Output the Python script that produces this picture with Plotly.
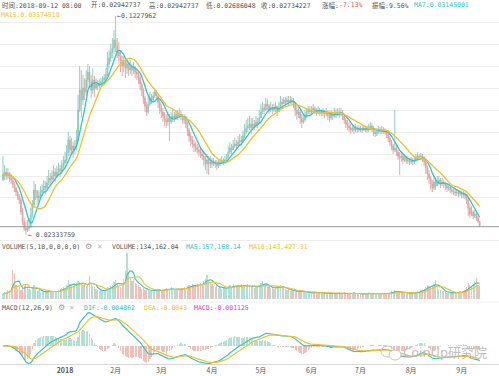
import numpy as np
import pandas as pd
import plotly.graph_objects as go

# ---------------- data (prices in 1e-4 units, volume in thousands) ----------------
start_date = "2017-11-24"
first_open_e4 = 482

close_e4 = [
    505, 518, 500, 514, 491, 482, 464, 445, 427, 409,
    391, 336, 291, 263, 254, 263, 268, 323, 368, 436,
    427, 400, 409, 427, 436, 455, 445, 468, 491, 482,
    500, 518, 500, 518, 532, 523, 546, 559, 573, 609,
    664, 618, 637, 618, 637, 664, 800, 891, 846, 900,
    882, 937, 973, 928, 891, 937, 900, 919, 910, 923,
    928, 937, 946, 964, 1010, 1037, 1064, 1082, 1119, 1091,
    1064, 1046, 1028, 1000, 1019, 991, 1010, 982, 1000, 982,
    991, 973, 964, 946, 919, 891, 855, 818, 791, 828,
    855, 846, 864, 882, 864, 837, 809, 791, 773, 755,
    746, 764, 746, 764, 773, 764, 782, 773, 782, 773,
    755, 764, 737, 709, 682, 664, 646, 637, 627, 618,
    609, 600, 591, 573, 555, 573, 555, 564, 555, 564,
    555, 546, 555, 564, 573, 564, 573, 582, 609, 627,
    618, 637, 646, 637, 655, 664, 655, 682, 700, 718,
    728, 737, 718, 737, 728, 746, 737, 764, 791, 809,
    800, 828, 818, 800, 809, 800, 809, 818, 791, 809,
    837, 828, 846, 837, 846, 837, 846, 841, 828, 800,
    782, 791, 764, 746, 755, 773, 791, 800, 791, 800,
    809, 800, 791, 800, 791, 787, 791, 782, 791, 773,
    764, 782, 773, 791, 782, 791, 782, 791, 773, 755,
    737, 728, 718, 709, 718, 709, 718, 709, 718, 714,
    709, 718, 714, 709, 718, 728, 718, 700, 691, 700,
    709, 705, 709, 705, 700, 691, 673, 655, 637, 618,
    627, 609, 591, 582, 591, 573, 582, 568, 573, 564,
    568, 564, 573, 582, 591, 587, 591, 582, 564, 536,
    509, 491, 464, 445, 473, 455, 473, 482, 464, 473,
    464, 455, 445, 450, 436, 432, 427, 423, 427, 418,
    423, 414, 418, 409, 391, 354, 327, 336, 318, 327,
    309, 294.2737, 273.4227,
]

high_e4 = [
    591, 550, 536, 536, 518, 509, 491, 473, 455, 436,
    418, 400, 354, 309, 291, 300, 309, 354, 391, 477,
    464, 436, 436, 455, 464, 482, 477, 500, 527, 514,
    527, 550, 536, 546, 559, 550, 573, 591, 609, 641,
    700, 682, 673, 655, 664, 709, 869, 1000, 982, 959,
    946, 982, 1010, 1000, 959, 991, 955, 946, 937, 941,
    946, 955, 964, 991, 1064, 1073, 1101, 1128, 1164, 1227.962,
    1128, 1110, 1073, 1046, 1046, 1028, 1037, 1019, 1028, 1010,
    1019, 1000, 991, 973, 955, 928, 900, 864, 837, 864,
    882, 873, 882, 900, 891, 873, 846, 828, 809, 791,
    782, 791, 782, 791, 800, 791, 800, 800, 809, 800,
    782, 782, 773, 746, 718, 700, 682, 664, 655, 646,
    637, 627, 618, 609, 591, 600, 591, 591, 582, 582,
    573, 573, 573, 582, 591, 582, 591, 600, 637, 655,
    646, 664, 673, 664, 682, 691, 682, 709, 737, 755,
    764, 773, 764, 764, 755, 773, 764, 800, 828, 837,
    828, 855, 850, 828, 837, 828, 828, 837, 818, 837,
    864, 855, 859, 859, 864, 864, 864, 859, 855, 837,
    818, 818, 800, 782, 782, 800, 809, 818, 818, 818,
    828, 818, 809, 818, 809, 805, 809, 800, 809, 800,
    791, 800, 791, 809, 805, 809, 809, 809, 800, 782,
    764, 755, 746, 737, 737, 732, 737, 728, 732, 728,
    728, 732, 728, 728, 737, 746, 741, 728, 718, 718,
    728, 723, 728, 723, 718, 709, 700, 682, 664, 646,
    800, 646, 618, 609, 609, 600, 600, 591, 591, 582,
    587, 582, 591, 600, 609, 600, 605, 600, 591, 573,
    546, 527, 500, 482, 500, 491, 500, 500, 491, 491,
    482, 473, 464, 464, 455, 450, 445, 441, 441, 436,
    436, 432, 432, 427, 418, 400, 373, 364, 345, 345,
    336, 318, 294.2737,
]

low_e4 = [
    477, 482, 482, 486, 473, 464, 445, 427, 409, 391,
    373, 323, 277, 250, 233.3759, 245, 250, 263, 309, 354,
    391, 373, 382, 400, 409, 423, 418, 436, 459, 455,
    468, 482, 473, 491, 500, 496, 509, 527, 536, 559,
    591, 591, 596, 582, 600, 618, 655, 791, 764, 823,
    846, 864, 900, 900, 855, 873, 859, 891, 891, 900,
    910, 914, 923, 937, 955, 991, 1019, 1037, 1055, 1064,
    1037, 1010, 973, 955, 973, 946, 964, 955, 964, 955,
    964, 946, 937, 919, 891, 864, 828, 791, 773, 782,
    818, 828, 837, 855, 846, 809, 782, 764, 746, 728,
    718, 728, 659, 737, 746, 746, 755, 755, 764, 755,
    737, 737, 718, 682, 655, 637, 627, 609, 609, 600,
    591, 582, 573, 546, 527, 509, 505, 536, 536, 546,
    536, 527, 536, 546, 555, 550, 555, 564, 582, 600,
    600, 618, 627, 618, 637, 637, 637, 655, 673, 691,
    700, 709, 691, 718, 709, 718, 718, 737, 764, 782,
    782, 800, 800, 782, 791, 782, 791, 791, 773, 791,
    809, 809, 828, 818, 828, 818, 828, 828, 809, 773,
    755, 764, 737, 718, 737, 746, 764, 782, 773, 782,
    791, 782, 773, 782, 773, 773, 773, 764, 773, 755,
    746, 755, 755, 764, 764, 773, 764, 773, 755, 737,
    718, 709, 700, 691, 700, 691, 700, 696, 700, 700,
    696, 705, 700, 696, 700, 709, 700, 682, 677, 682,
    691, 691, 691, 691, 687, 673, 655, 637, 618, 600,
    609, 591, 573, 505, 564, 555, 564, 555, 555, 550,
    555, 550, 555, 564, 573, 573, 573, 564, 546, 509,
    482, 464, 436, 427, 436, 436, 455, 459, 445, 455,
    445, 436, 427, 432, 423, 418, 414, 409, 409, 404,
    409, 400, 400, 395, 373, 318, 309, 318, 304, 309,
    295, 286, 268.6048,
]

volume_k = [
    49, 69, 59, 88, 78, 118, 284, 255, 137, 98,
    118, 88, 108, 127, 147, 118, 98, 88, 118, 137,
    98, 78, 88, 69, 78, 69, 78, 69, 88, 78,
    69, 78, 69, 78, 88, 98, 108, 118, 98, 137,
    186, 147, 137, 127, 137, 157, 176, 167, 147, 137,
    157, 127, 137, 225, 147, 127, 118, 98, 88, 78,
    88, 78, 88, 98, 118, 108, 127, 137, 167, 186,
    157, 127, 118, 147, 196, 274, 451, 255, 216, 176,
    196, 157, 147, 137, 118, 98, 108, 88, 98, 88,
    78, 88, 98, 78, 88, 98, 88, 78, 88, 98,
    108, 98, 88, 118, 98, 88, 98, 108, 88, 98,
    108, 118, 108, 127, 137, 127, 147, 137, 127, 147,
    137, 157, 147, 176, 196, 235, 186, 167, 147, 127,
    118, 137, 108, 118, 98, 108, 118, 98, 127, 137,
    118, 147, 127, 118, 137, 127, 147, 118, 137, 127,
    147, 118, 127, 137, 108, 127, 118, 137, 157, 176,
    147, 137, 118, 127, 108, 118, 98, 108, 127, 118,
    137, 118, 108, 98, 88, 98, 78, 88, 78, 69,
    88, 78, 88, 69, 78, 69, 59, 69, 59, 69,
    59, 78, 69, 59, 69, 49, 59, 69, 59, 49,
    59, 69, 49, 59, 49, 59, 69, 49, 59, 69,
    59, 49, 59, 49, 59, 69, 49, 59, 49, 59,
    49, 59, 49, 59, 69, 49, 59, 49, 59, 49,
    59, 49, 59, 49, 59, 49, 59, 69, 78, 69,
    88, 78, 69, 78, 59, 69, 59, 49, 59, 69,
    59, 49, 59, 69, 78, 69, 88, 98, 98, 118,
    137, 127, 118, 137, 147, 186, 118, 98, 88, 78,
    78, 69, 59, 69, 59, 69, 59, 69, 59, 69,
    78, 69, 78, 88, 118, 157, 137, 127, 147, 176,
    206, 137, 134.16204,
]

month_ticks = ["2018-01-01", "2018-02-01", "2018-03-01", "2018-04-01", "2018-05-01",
               "2018-06-01", "2018-07-01", "2018-08-01", "2018-09-01"]
month_labels = ["<b>2018</b>", "2月", "3月", "4月", "5月", "6月", "7月", "8月", "9月"]

# ---------------- derived series ----------------
n = min(len(close_e4), len(high_e4), len(low_e4), len(volume_k))
dates = pd.date_range(start_date, periods=n, freq="D")
close = pd.Series(close_e4[:n], dtype=float) * 1e-4
high = pd.Series(high_e4[:n], dtype=float) * 1e-4
low = pd.Series(low_e4[:n], dtype=float) * 1e-4
opn = close.shift(1)
opn.iloc[0] = first_open_e4 * 1e-4
volume = pd.Series(volume_k[:n], dtype=float) * 1000

ma7 = close.rolling(7, min_periods=1).mean()
ma15 = close.rolling(15, min_periods=1).mean()
vma5 = volume.rolling(5, min_periods=1).mean()
vma10 = volume.rolling(10, min_periods=1).mean()
ema12 = close.ewm(span=12, adjust=False).mean()
ema26 = close.ewm(span=26, adjust=False).mean()
dif = ema12 - ema26
dea = dif.ewm(span=9, adjust=False).mean()
hist = 2 * (dif - dea)

UP = "#86cbbb"
DOWN = "#dea3a3"
UP_L = "#b3e0d5"
DOWN_L = "#eec0ba"
CYAN = "#34c3c6"
GOLD = "#f0bf2c"
MAG = "#d23fc3"
TXT = "#555555"

up_mask = close >= opn
vol_colors = [UP_L if u else DOWN_L for u in up_mask]
hist_colors = [UP_L if h >= 0 else DOWN_L for h in hist]

W, H = 499, 376
def py(p):  # pixel row -> paper fraction
    return 1 - p / H

fig = go.Figure()
fig.add_trace(go.Candlestick(
    x=dates, open=opn, high=high, low=low, close=close,
    increasing=dict(line=dict(color=UP, width=0.9), fillcolor=UP),
    decreasing=dict(line=dict(color=DOWN, width=0.9), fillcolor=DOWN),
    whiskerwidth=0, xaxis="x", yaxis="y", hoverinfo="skip"))
fig.add_trace(go.Scatter(x=dates, y=ma7, mode="lines", line=dict(color=CYAN, width=1.3),
                         xaxis="x", yaxis="y", hoverinfo="skip"))
fig.add_trace(go.Scatter(x=dates, y=ma15, mode="lines", line=dict(color=GOLD, width=1.3),
                         xaxis="x", yaxis="y", hoverinfo="skip"))

fig.add_trace(go.Bar(x=dates, y=volume, marker=dict(color=vol_colors, line=dict(width=0)),
                     width=0.75 * 86400000, xaxis="x", yaxis="y2", hoverinfo="skip"))
fig.add_trace(go.Scatter(x=dates, y=vma5, mode="lines", line=dict(color=CYAN, width=1.1),
                         xaxis="x", yaxis="y2", hoverinfo="skip"))
fig.add_trace(go.Scatter(x=dates, y=vma10, mode="lines", line=dict(color=GOLD, width=1.1),
                         xaxis="x", yaxis="y2", hoverinfo="skip"))

fig.add_trace(go.Bar(x=dates, y=hist, marker=dict(color=hist_colors, line=dict(width=0)),
                     width=0.75 * 86400000, xaxis="x", yaxis="y3", hoverinfo="skip"))
fig.add_trace(go.Scatter(x=dates, y=dif, mode="lines", line=dict(color=CYAN, width=1.2),
                         xaxis="x", yaxis="y3", hoverinfo="skip"))
fig.add_trace(go.Scatter(x=dates, y=dea, mode="lines", line=dict(color=GOLD, width=1.2),
                         xaxis="x", yaxis="y3", hoverinfo="skip"))

# axis ranges
px_per_price = 0.000455
main_top = 0.1228 + 16 * px_per_price
main_range = [main_top - 240 * px_per_price, main_top]
vol_top = float(volume.max()) * 49.3 / 46
mtop = float(max(dif.max(), dea.max())) * 1.02
macd_range = [-mtop * 18 / 34, mtop]

fig.update_layout(
    width=W, height=H, margin=dict(l=0, r=0, t=0, b=0),
    paper_bgcolor="white", plot_bgcolor="white", showlegend=False,
    bargap=0, hovermode=False,
    xaxis=dict(type="date", range=["2017-11-22 04:19", "2018-09-23 20:24"], anchor="y3",
               tickvals=month_ticks, ticktext=month_labels, ticks="",
               tickfont=dict(family="Noto Sans CJK SC, DejaVu Sans", size=7, color=TXT),
               showgrid=False, showline=True, linecolor="#d6d6d6", linewidth=1,
               zeroline=False, rangeslider=dict(visible=False), fixedrange=True),
    yaxis=dict(domain=[py(240), 1], range=main_range, showticklabels=False,
               tickvals=[0.04, 0.05, 0.06, 0.07, 0.08, 0.09, 0.10, 0.11, 0.12],
               gridcolor="#eeeeee", gridwidth=1, zeroline=False, ticks="", fixedrange=True),
    yaxis2=dict(domain=[py(299.3), py(250)], range=[0, vol_top], showticklabels=False,
                showgrid=False, zeroline=False, ticks="", fixedrange=True),
    yaxis3=dict(domain=[py(364), py(312)], range=macd_range, showticklabels=False,
                showgrid=False, zeroline=False, ticks="", fixedrange=True),
)

shapes = [
    dict(type="line", xref="paper", yref="paper", x0=0, x1=1, y0=py(226.7), y1=py(226.7),
         line=dict(color="#9a9a9a", width=1)),
    dict(type="line", xref="paper", yref="paper", x0=0, x1=1, y0=py(240.5), y1=py(240.5),
         line=dict(color="#eeeeee", width=1)),
    dict(type="line", xref="paper", yref="paper", x0=0, x1=1, y0=py(302), y1=py(302),
         line=dict(color="#eeeeee", width=1)),
    # watermark icon (two speech bubbles)
    dict(type="circle", xref="paper", yref="paper", x0=381 / W, x1=394 / W,
         y0=py(357), y1=py(346), line=dict(color="#c4c4c4", width=1)),
    dict(type="circle", xref="paper", yref="paper", x0=389 / W, x1=401 / W,
         y0=py(360), y1=py(350), line=dict(color="#c4c4c4", width=1), fillcolor="white"),
]
fig.update_layout(shapes=shapes)

FONT = "DejaVu Sans Mono, Noto Sans CJK SC, monospace"
def ann(x, y, text, color=TXT, size=6.5, family=FONT):
    fig.add_annotation(x=x / W, y=py(y), xref="paper", yref="paper", text=text,
                       showarrow=False, xanchor="left", yanchor="middle", borderpad=0,
                       font=dict(family=family, size=size, color=color))

# header line
ann(1, 5, "时间:2018-09-12 08:00")
ann(90, 5, "开:0.02942737")
ann(147.5, 5, "高:0.02942737")
ann(204.5, 5, "低:0.02686048")
ann(259.5, 5, "收:0.02734227")
ann(321, 5, "涨幅:")
ann(337.5, 5, "-7.13%", color="#e05252")
ann(371, 5, "振幅:9.56%")
ann(412.5, 5, "MA7:0.03145001", color=CYAN)
ann(0, 15.5, "MA15:0.03574518", color=GOLD)

# extreme labels
imax = int(high.values.argmax())
imin = int(low.values.argmin())
fig.add_annotation(x=dates[imax], y=high.iloc[imax], xref="x", yref="y",
                   text="←" + f"{high.iloc[imax]:.7f}", showarrow=False,
                   xanchor="left", yanchor="middle", xshift=0, borderpad=0,
                   font=dict(family=FONT, size=6.5, color=TXT))
fig.add_annotation(x=dates[imin], y=low.iloc[imin], xref="x", yref="y",
                   text="← " + f"{low.iloc[imin]:.8f}", showarrow=False,
                   xanchor="left", yanchor="middle", xshift=1, borderpad=0,
                   font=dict(family=FONT, size=6.5, color=TXT))

# volume header
ann(1, 246.5, "VOLUME(5,10,0,0,0,0)")
ann(84, 246.5, "⚙", color="#9a9a9a", size=8, family="DejaVu Sans")
ann(95.5, 246.5, "✕", color="#bbbbbb", size=7, family="DejaVu Sans")
ann(110.5, 246.5, "VOLUME:134,162.04")
ann(184.5, 246.5, "MA5:157,168.14", color=CYAN)
ann(248, 246.5, "MA10:143,427.31", color=GOLD)

# MACD header
ann(1, 307.5, "MACD(12,26,9)")
ann(57, 307.5, "⚙", color="#9a9a9a", size=8, family="DejaVu Sans")
ann(68, 307.5, "✕", color="#bbbbbb", size=7, family="DejaVu Sans")
ann(82.5, 307.5, "DIF:-0.004862", color=CYAN)
ann(142.5, 307.5, "DEA:-0.0043", color=GOLD)
ann(193, 307.5, "MACD:-0.001125", color=MAG)

# watermark
ann(402, 352, "CoinUp研究院", color="#bdbdbd", size=13, family="Noto Sans, Noto Sans CJK SC")

fig.write_html("out.html",
               config={"displayModeBar": False, "staticPlot": True},
               post_script="document.body.style.margin='0';document.body.style.overflow='hidden';")
